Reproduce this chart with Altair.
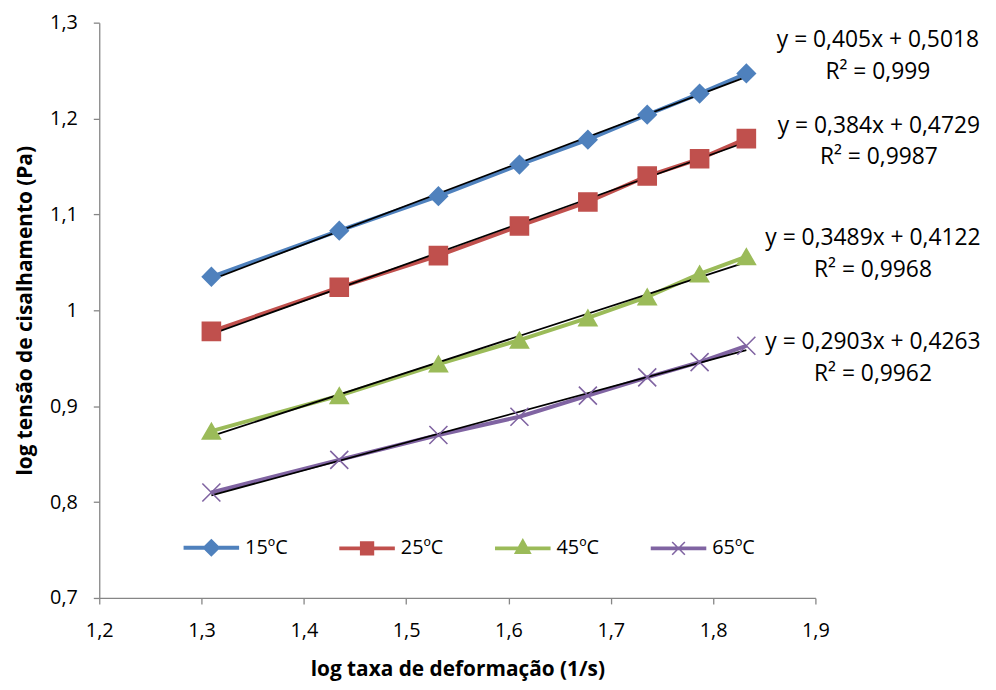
import altair as alt
import pandas as pd

# ---- data ----
series_names = ["15ºC", "25ºC", "45ºC", "65ºC"]
log_rate = [1.3096, 1.4346, 1.5315, 1.6107, 1.6776, 1.7356, 1.7868, 1.8325]
y_15 = [1.035, 1.083, 1.119, 1.152, 1.178, 1.204, 1.226, 1.247]
y_25 = [0.978, 1.024, 1.057, 1.088, 1.113, 1.140, 1.158, 1.179]
y_45 = [0.874, 0.911, 0.944, 0.969, 0.992, 1.014, 1.038, 1.056]
y_65 = [0.810, 0.844, 0.870, 0.889, 0.911, 0.930, 0.946, 0.963]
eq_labels = ["y = 0,405x + 0,5018", "y = 0,384x + 0,4729",
             "y = 0,3489x + 0,4122", "y = 0,2903x + 0,4263"]
r2_labels = ["R² = 0,999", "R² = 0,9987", "R² = 0,9968", "R² = 0,9962"]
x_ticks = [1.2, 1.3, 1.4, 1.5, 1.6, 1.7, 1.8, 1.9]
y_ticks = [0.7, 0.8, 0.9, 1.0, 1.1, 1.2, 1.3]

rows = []
for name, ys in zip(series_names, [y_15, y_25, y_45, y_65]):
    for xv, yv in zip(log_rate, ys):
        rows.append({"x": xv, "y": yv, "series": name})
df = pd.DataFrame(rows)

# ---- styles ----
FONT = "Open Sans"
FS = 20
colors = ["#4F81BD", "#C0504D", "#9BBB59", "#8064A2"]
marker_shapes = ["diamond", "square", "triangle-up", "M-1,-1L1,1M-1,1L1,-1"]
bar = "M-3.4,-0.14H3.4V0.14H-3.4Z"
legend_shapes = [
    bar + "M0,-1L1,0L0,1L-1,0Z",
    bar + "M-0.8,-0.8H0.8V0.8H-0.8Z",
    bar + "M0,-1.1L0.95,0.6H-0.95Z",
    bar + "M-0.8,-0.8L0.8,0.8M-0.8,0.8L0.8,-0.8",
]
label_expr = "replace(format(datum.value, '.2~f'), '.', ',')"

x_enc = alt.X("x:Q", scale=alt.Scale(domain=[1.2, 1.9], nice=False, zero=False),
              axis=alt.Axis(values=x_ticks, labelExpr=label_expr, labelFlush=False,
                            labelPadding=17,
                            title="log taxa de deformação (1/s)", titlePadding=18))
y_enc = alt.Y("y:Q", scale=alt.Scale(domain=[0.7, 1.3], nice=False, zero=False),
              axis=alt.Axis(values=y_ticks, labelExpr=label_expr, labelFlush=False,
                            labelPadding=16,
                            title="log tensão de cisalhamento (Pa)", titlePadding=14))

def cscale():
    return alt.Scale(domain=series_names, range=colors)

base = alt.Chart(df)

lines = base.mark_line(strokeWidth=4).encode(
    x=x_enc, y=y_enc,
    color=alt.Color("series:N", scale=cscale(), legend=None),
)

points = base.mark_point(filled=True, size=330, strokeWidth=1.6, opacity=1).encode(
    x="x:Q", y="y:Q",
    fill=alt.Fill("series:N", scale=cscale(), legend=None),
    stroke=alt.Stroke("series:N", scale=cscale(), legend=None),
    shape=alt.Shape("series:N", scale=alt.Scale(domain=series_names, range=marker_shapes), legend=None),
)

trend = base.transform_regression("x", "y", groupby=["series"]).mark_line(
    color="black", strokeWidth=1.8
).encode(x="x:Q", y="y:Q", detail="series:N")

leg = alt.Legend(title=None, orient="none", legendX=103, legendY=519,
                 direction="horizontal", symbolSize=256, symbolStrokeWidth=1.6,
                 symbolOpacity=1, labelOffset=24, columnPadding=49,
                 labelFontSize=FS, labelFont=FONT, labelColor="black", padding=0)

legend_layer = base.mark_point(filled=True, opacity=0).encode(
    x="x:Q", y="y:Q",
    fill=alt.Fill("series:N", scale=cscale(), legend=leg),
    stroke=alt.Stroke("series:N", scale=cscale(), legend=leg),
    shape=alt.Shape("series:N", scale=alt.Scale(domain=series_names, range=legend_shapes), legend=leg),
)

ann_x = [785, 786, 780, 780]
ann_y = [18, 104, 217, 322]
texts = []
for i in range(4):
    for j, lab in enumerate([eq_labels[i], r2_labels[i]]):
        texts.append(
            alt.Chart(pd.DataFrame({"t": [lab]})).mark_text(
                fontSize=23, font=FONT, color="black", align="center", baseline="middle"
            ).encode(text="t:N", x=alt.value(ann_x[i]), y=alt.value(ann_y[i] + 32 * j))
        )

chart = alt.layer(lines, trend, points, legend_layer, *texts).resolve_scale(
    color="independent", fill="independent", stroke="independent", shape="independent"
).properties(
    width=722, height=580,
    autosize=alt.AutoSizeParams(type="none"),
    padding={"left": 92, "top": 12, "right": 174, "bottom": 88},
).configure_view(stroke=None).configure_axis(
    grid=False, domainColor="#868686", tickColor="#868686", domainWidth=1.3,
    tickWidth=1.3, tickSize=6, labelFont=FONT, labelFontSize=FS, labelColor="black",
    titleFont=FONT, titleFontSize=21, titleFontWeight="bold",
    titleColor="black",
)

chart.save("out.html", embed_options={"renderer": "svg", "actions": False})
